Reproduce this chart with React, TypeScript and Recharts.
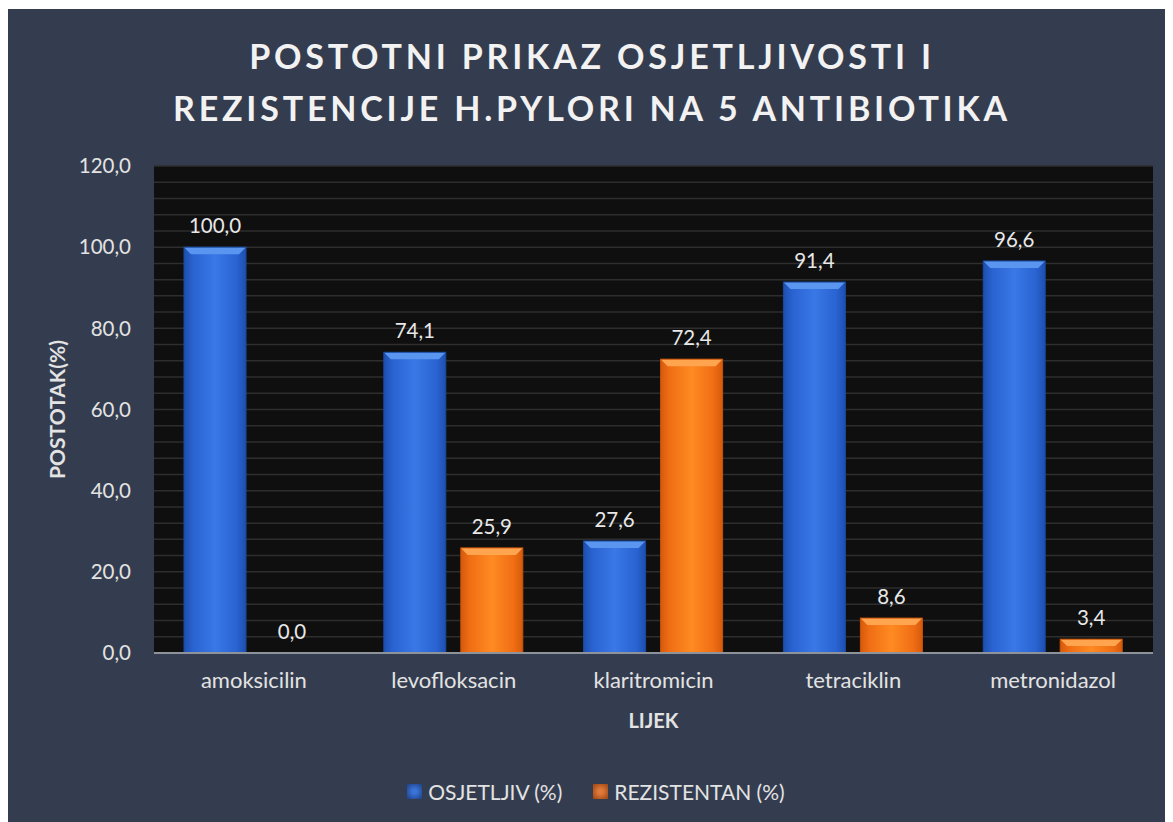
import { BarChart, Bar, XAxis, YAxis, CartesianGrid, LabelList } from "recharts";

const categories = ["amoksicilin", "levofloksacin", "klaritromicin", "tetraciklin", "metronidazol"];
const osjetljiv = [100.0, 74.1, 27.6, 91.4, 96.6];
const rezistentan = [0.0, 25.9, 72.4, 8.6, 3.4];
const yTicks = [0, 20, 40, 60, 80, 100, 120];
const gridTicks = [0, 4, 8, 12, 16, 20, 24, 28, 32, 36, 40, 44, 48, 52, 56, 60, 64, 68, 72, 76, 80, 84, 88, 92, 96, 100, 104, 108, 112, 116, 120];
const Y_MAX = 120;

const data = categories.map((name, i) => ({
  name,
  osjetljiv: osjetljiv[i],
  rezistentan: rezistentan[i],
}));

const FONT = "Lato, 'Open Sans', sans-serif";
const fmt = (v: number) => Number(v).toFixed(1).replace(".", ",");

// minor gridlines every 4 units, through the y scale
const gridLines = (args: any) => {
  const scale = args?.yAxis?.scale;
  if (typeof scale === "function") return gridTicks.map((t) => scale(t));
  const off = args.offset;
  return gridTicks.map((t) => off.top + off.height * (1 - t / Y_MAX));
};

// bar with a bevelled top, like the Excel "glass" style
const BevelBar = (props: any) => {
  const { x, y, width, height, grad, top, edge } = props;
  if (!height || height <= 0) return null;
  const b = Math.min(7, height / 2);
  return (
    <g>
      <rect x={x} y={y} width={width} height={height} fill={`url(#${grad})`} />
      <polygon
        points={`${x},${y} ${x + width},${y} ${x + width - b},${y + b} ${x + b},${y + b}`}
        fill={top}
      />
      <rect x={x} y={y} width={width} height={height} fill="none" stroke={edge} strokeWidth={1} />
    </g>
  );
};

const LegendItem = ({ color, edge, label }: { color: string; edge: string; label: string }) => (
  <span style={{ display: "inline-flex", alignItems: "center", marginRight: 31 }}>
    <span
      style={{
        width: 15,
        height: 15,
        background: `radial-gradient(circle, ${color} 20%, ${edge} 100%)`,
        marginRight: 6,
      }}
    />
    {label}
  </span>
);

export default function App() {
  return (
    <div
      style={{
        position: "relative",
        width: 1166,
        height: 813,
        marginLeft: -1,
        marginTop: 1,
        background: "#343d4f",
        fontFamily: FONT,
      }}
    >
      <div
        style={{
          position: "absolute",
          left: 4,
          right: 0,
          top: 21,
          textAlign: "center",
          color: "#f2f2f2",
          fontWeight: 700,
          fontSize: 34,
          letterSpacing: 3.8,
          lineHeight: "52px",
        }}
      >
        POSTOTNI PRIKAZ OSJETLJIVOSTI I<br />
        REZISTENCIJE H.PYLORI NA 5 ANTIBIOTIKA
      </div>
      <BarChart
        width={1166}
        height={813}
        data={data}
        margin={{ top: 157, right: 20, bottom: 0, left: 0 }}
        barCategoryGap={30}
        barGap={15}
        style={{ position: "absolute", left: 0, top: 0 }}
      >
        <defs>
          <linearGradient id="gBlue" x1="0" y1="0" x2="1" y2="0">
            <stop offset="0" stopColor="#1d4fae" />
            <stop offset="0.15" stopColor="#2a63d2" />
            <stop offset="0.5" stopColor="#3978e6" />
            <stop offset="0.85" stopColor="#2a63d2" />
            <stop offset="1" stopColor="#1d4fae" />
          </linearGradient>
          <linearGradient id="gOrange" x1="0" y1="0" x2="1" y2="0">
            <stop offset="0" stopColor="#d65a0c" />
            <stop offset="0.15" stopColor="#f06e14" />
            <stop offset="0.5" stopColor="#ff8a22" />
            <stop offset="0.85" stopColor="#f06e14" />
            <stop offset="1" stopColor="#d65a0c" />
          </linearGradient>
        </defs>
        <CartesianGrid
          vertical={false}
          horizontalCoordinatesGenerator={gridLines}
          stroke="#2e2e2e"
          strokeWidth={1.5}
          fill="#0f0f0f"
          fillOpacity={1}
        />
        <XAxis
          dataKey="name"
          height={169}
          tickLine={false}
          axisLine={{ stroke: "#8d929b", strokeWidth: 2 }}
          tick={{ fill: "#e3e3e3", fontSize: 22, fontFamily: FONT }}
          tickMargin={13}
          label={{
            value: "LIJEK",
            position: "insideTop",
            offset: 61,
            fill: "#e3e3e3",
            fontSize: 20,
            fontWeight: 700,
            fontFamily: FONT,
          }}
        />
        <YAxis
          domain={[0, Y_MAX]}
          ticks={yTicks}
          width={147}
          axisLine={false}
          tickLine={false}
          tickFormatter={fmt}
          tickMargin={17}
          tick={{ fill: "#e3e3e3", fontSize: 20.5, fontFamily: FONT }}
          label={{
            value: "POSTOTAK(%)",
            angle: -90,
            position: "center",
            dx: -23,
            fill: "#e3e3e3",
            fontSize: 21,
            fontWeight: 700,
            fontFamily: FONT,
          }}
        />
        <Bar
          dataKey="osjetljiv"
          isAnimationActive={false}
          shape={(p: any) => <BevelBar {...p} grad="gBlue" top="#5a95f0" edge="#1a4aa0" />}
        >
          <LabelList
            dataKey="osjetljiv"
            position="top"
            offset={14}
            formatter={fmt}
            fill="#e8e8e8"
            fontSize={20.5}
            fontFamily={FONT}
          />
        </Bar>
        <Bar
          dataKey="rezistentan"
          isAnimationActive={false}
          shape={(p: any) => <BevelBar {...p} grad="gOrange" top="#ffa550" edge="#c85408" />}
        >
          <LabelList
            dataKey="rezistentan"
            position="top"
            offset={14}
            formatter={fmt}
            fill="#e8e8e8"
            fontSize={20.5}
            fontFamily={FONT}
          />
        </Bar>
      </BarChart>
      <div
        style={{
          position: "absolute",
          left: 0,
          right: 0,
          top: 769,
          textAlign: "center",
          color: "#e3e3e3",
          fontSize: 21,
          paddingLeft: 43,
        }}
      >
        <LegendItem color="#3a74d8" edge="#1e3f84" label="OSJETLJIV (%)" />
        <LegendItem color="#e07a3a" edge="#9a4512" label="REZISTENTAN (%)" />
      </div>
    </div>
  );
}
